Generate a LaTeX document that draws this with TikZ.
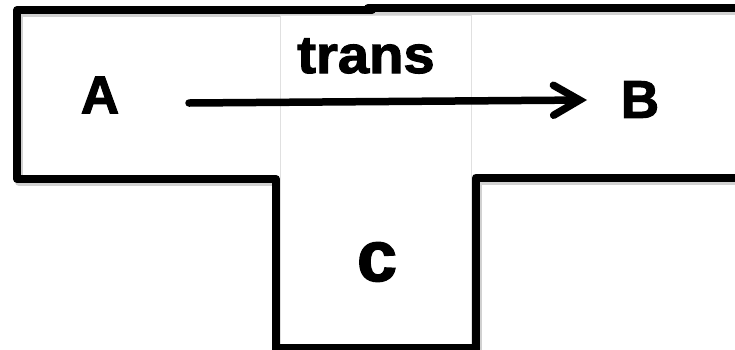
\documentclass[tikz,border=0pt]{standalone}
\usepackage{fontspec}
\setmainfont{Liberation Sans}[BoldFeatures={FakeBold=2}]
\usetikzlibrary{arrows.meta}
\tikzset{
  wall/.style={line width=8pt, line join=round, line cap=round, black},
  wallshadow/.style={line width=8pt, line join=round, line cap=round, black!18},
  panel/.style={fill=white, draw=black!12, line width=0.8pt},
  conn/.style={line width=7.5pt, line cap=round, -{Straight Barb[length=26pt,width=30pt,line cap=round]}},
  lbl/.style={font=\bfseries\fontsize{53}{53}\selectfont, inner sep=0pt}
}
\begin{document}
\begin{tikzpicture}[x=1pt,y=-1pt]
\useasboundingbox (0,0) rectangle (735,349);
\begin{scope}
\clip (0,0) rectangle (735,349);
% shadows
\begin{scope}[shift={(2,3)}]
\draw[wallshadow] (276,352) -- (276,179) -- (17,179) -- (17,10) -- (372,10);
\draw[wallshadow] (368,8) -- (745,8);
\draw[wallshadow] (745,177.5) -- (476,177.5) -- (476,352);
\end{scope}
% T outline
\draw[wall] (276,352) -- (276,179) -- (17,179) -- (17,10) -- (372,10);
\draw[wall] (368,8) -- (745,8);
\draw[wall] (745,177.5) -- (476,177.5) -- (476,352);
% central panel
\draw[panel] (280,15) rectangle (471,360);
% stem bottom
\draw[wall] (276,347.5) -- (476,347.5);
\end{scope}
% labels
\node[lbl] (A) at (100,95) {A};
\node[lbl] (B) at (640,99.5) {B};
\node[lbl, anchor=base] (trans) at (366,73) {\scalebox{1.06}[1]{trans}};
\node[inner sep=0pt, font=\bfseries\fontsize{72}{72}\selectfont] (C) at (377,262) {c};
% arrow
\coordinate (s) at (189,103);
\coordinate (e) at (587,100);
\draw[conn] (s) -- (e);
\end{tikzpicture}
\end{document}
